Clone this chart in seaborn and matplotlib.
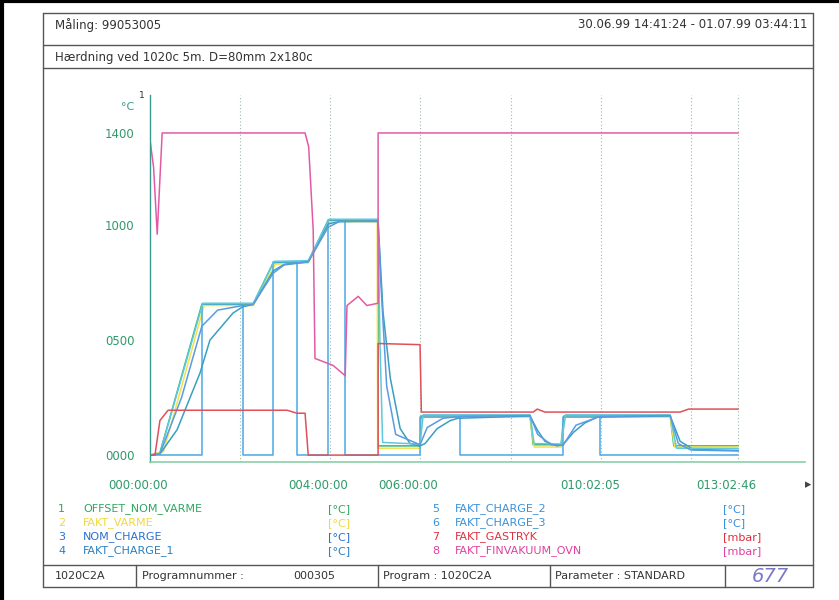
import matplotlib
matplotlib.use("Agg")
import matplotlib.pyplot as plt
from matplotlib.lines import Line2D
from matplotlib.transforms import ScaledTranslation
import pandas as pd
import seaborn as sns

# Data (time in hours, values as plotted on the common scale)
t_nom_varme = [0, 0.22, 1.15, 2.29, 2.73, 3.51, 3.95, 5.06, 5.06, 5.99, 6.02, 8.43, 8.50, 9.12, 9.18, 11.54, 11.62, 13.05]
v_nom_varme = [0, 10, 655, 655, 835, 840, 1020, 1020, 40, 40, 170, 170, 45, 45, 170, 170, 40, 40]

t_fakt_varme = [0, 0.30, 1.20, 2.29, 2.78, 3.51, 4.00, 5.04, 5.05, 5.99, 6.04, 8.43, 8.52, 9.12, 9.20, 11.54, 11.64, 13.05]
v_fakt_varme = [0, 15, 650, 650, 830, 835, 1015, 1015, 30, 30, 165, 165, 35, 35, 165, 165, 35, 35]

t_nom_charge = [0, 1.15, 1.15, 2.06, 2.06, 2.73, 2.73, 3.26, 3.26, 3.95, 3.95, 4.33, 4.33,
                5.99, 5.99, 6.88, 6.88, 9.16, 9.16, 9.98, 9.98, 13.05]
v_nom_charge = [0, 0, 655, 655, 0, 0, 840, 840, 0, 0, 1020, 1020, 0,
                0, 165, 165, 0, 0, 165, 165, 0, 0]

t_charge_1 = [0, 0.22, 0.6, 1.11, 1.33, 1.84, 2.06, 2.29, 2.73, 2.95, 3.51, 3.95, 4.22, 5.06,
              5.17, 5.33, 5.55, 5.77, 5.99, 6.10, 6.37, 6.66, 6.83, 8.43, 8.59, 8.76, 9.03,
              9.16, 9.40, 9.65, 9.92, 11.54, 11.76, 12.05, 13.05]
v_charge_1 = [0, 5, 110, 357, 500, 617, 645, 655, 800, 826, 840, 1005, 1015, 1015,
              620, 335, 115, 50, 40, 50, 115, 150, 160, 170, 110, 60, 40,
              45, 100, 140, 165, 170, 60, 25, 20]

t_charge_2 = [0, 0.22, 1.17, 2.29, 2.75, 3.51, 3.97, 5.06, 5.10, 5.16, 5.99, 6.06, 8.43, 8.52,
              9.12, 9.22, 11.54, 11.68, 13.05]
v_charge_2 = [0, 8, 660, 660, 842, 845, 1025, 1025, 500, 55, 48, 175, 175, 50,
              48, 175, 175, 30, 28]

t_charge_3 = [0, 0.22, 0.7, 1.15, 1.5, 2.06, 2.29, 2.73, 3.0, 3.51, 3.95, 4.2, 5.06, 5.12,
              5.25, 5.45, 5.99, 6.15, 6.5, 6.88, 8.43, 8.60, 8.90, 9.16, 9.45, 9.98, 11.54,
              11.72, 12.0, 13.05]
v_charge_3 = [0, 5, 250, 560, 630, 650, 655, 790, 830, 840, 990, 1015, 1018, 750,
              300, 90, 45, 120, 160, 168, 172, 90, 45, 42, 130, 168, 172,
              50, 22, 18]

t_gastryk = [0, 0.11, 0.22, 0.40, 3.04, 3.26, 3.44, 3.51, 5.06, 5.06, 5.99, 6.02, 8.50, 8.59,
             8.76, 11.76, 11.95, 13.05]
v_gastryk = [0, 0, 150, 195, 195, 182, 182, 0, 0, 485, 480, 187, 187, 200,
             187, 187, 200, 200]

t_finvakuum = [0, 0.08, 0.16, 0.27, 3.44, 3.52, 3.62, 3.66, 4.06, 4.33, 4.37, 4.62, 4.81, 5.06, 5.06, 13.05]
v_finvakuum = [1370, 1250, 960, 1400, 1400, 1340, 980, 420, 390, 345, 650, 690, 650, 660, 1400, 1400]

series_names = ["OFFSET_NOM_VARME", "FAKT_VARME", "NOM_CHARGE", "FAKT_CHARGE_1",
                "FAKT_CHARGE_2", "FAKT_CHARGE_3", "FAKT_GASTRYK", "FAKT_FINVAKUUM_OVN"]
series_units = ["[°C]", "[°C]", "[°C]", "[°C]", "[°C]", "[°C]", "[mbar]", "[mbar]"]
line_colors = ["#3bb273", "#f2e24a", "#49a8e6", "#3a9fc0", "#5ec8dc", "#5a9be0", "#e0505a", "#e25aa6"]
text_colors = ["#2ea860", "#f0d840", "#2a70d0", "#2a80c0", "#3a90d8", "#3a90d8", "#e03040", "#e040a0"]

y_ticks = [0, 500, 1000, 1400]
y_labels = ["0000", "0500", "1000", "1400"]
x_ticks = [0, 4, 6, 10.03, 13.046]
x_labels = ["000:00:00", "004:00:00", "006:00:00", "010:02:05", "013:02:46"]
grid_times = [2, 4, 6, 8, 10, 12, 13.046]

all_t = [t_nom_varme, t_fakt_varme, t_nom_charge, t_charge_1, t_charge_2, t_charge_3, t_gastryk, t_finvakuum]
all_v = [v_nom_varme, v_fakt_varme, v_nom_charge, v_charge_1, v_charge_2, v_charge_3, v_gastryk, v_finvakuum]

frames = []
for name, t, v in zip(series_names, all_t, all_v):
    frames.append(pd.DataFrame({"t": t, "v": v, "serie": name}))
df = pd.concat(frames, ignore_index=True)

sns.set_theme(style="white")
plt.rcParams["font.family"] = ["DejaVu Sans"]

W, H = 839, 600
fig = plt.figure(figsize=(W / 100, H / 100), dpi=100)
fig.patch.set_facecolor("white")


def fx(x):
    return x / W


def fy(y):
    return 1 - y / H


def line(x0, y0, x1, y1, color="#555555", lw=1.0):
    fig.add_artist(Line2D([fx(x0), fx(x1)], [fy(y0), fy(y1)], color=color, lw=lw,
                          transform=fig.transFigure))


def txt(x, y, s, color="#333333", size=8.5, ha="left", **kw):
    fig.text(fx(x), fy(y), s, color=color, fontsize=size, ha=ha, va="center", **kw)


ax = fig.add_axes([fx(150), fy(462), (805 - 150) / W, (462 - 95) / H])
ax.set_facecolor("white")

for gt in grid_times:
    ax.axvline(gt, color="#9fb8aa", lw=0.8, ls=(0, (1, 2)), zorder=0)

sns.lineplot(data=df, x="t", y="v", hue="serie", hue_order=series_names,
             palette=dict(zip(series_names, line_colors)), sort=False,
             estimator=None, legend=False, lw=1.1, ax=ax)

ax.set_xlim(0, 14.53)
ax.set_ylim(-30, 1565)
ax.set_xlabel("")
ax.set_ylabel("")
for s in ["top", "right"]:
    ax.spines[s].set_visible(False)
ax.spines["left"].set_color("#3a9a90")
ax.spines["bottom"].set_color("#8ad0a8")
ax.spines["left"].set_linewidth(1.0)
ax.spines["bottom"].set_linewidth(1.2)

ax.set_yticks(y_ticks, y_labels)
ax.set_xticks(x_ticks, x_labels)
ax.tick_params(length=0, labelsize=8.5, labelcolor="#2e9a6a")
ax.tick_params(axis="y", pad=11)
ax.tick_params(axis="x", pad=12)
for lab in ax.get_xticklabels():
    lab.set_transform(lab.get_transform() + ScaledTranslation(-0.12, 0, fig.dpi_scale_trans))

txt(128, 107, "°C", color="#3a9a90", size=8, ha="center")
txt(142, 95, "1", color="#333333", size=6.5, ha="center")
txt(808, 485, "▸", color="#444444", size=9, ha="center")

# page frame
fig.add_artist(Line2D([0, 1], [fy(1), fy(1)], color="black", lw=3, transform=fig.transFigure))
fig.add_artist(Line2D([fx(1.5), fx(1.5)], [0, 1], color="black", lw=3, transform=fig.transFigure))
line(43, 13, 813, 13)
line(43, 587, 813, 587)
line(43, 13, 43, 587)
line(813, 13, 813, 587)
line(43, 45, 813, 45)
line(43, 68, 813, 68)
line(43, 565, 813, 565)

txt(55, 25, "Måling: 99053005")
txt(808, 25, "30.06.99 14:41:24 - 01.07.99 03:44:11", ha="right")
txt(55, 57, "Hærdning ved 1020c 5m. D=80mm 2x180c")

# legend
rows = [509, 523, 537, 551]
for i, (name, unit, col) in enumerate(zip(series_names, series_units, text_colors)):
    if i < 4:
        xn, xl, xu = 58, 83, 328
    else:
        xn, xl, xu = 432, 455, 723
    y = rows[i % 4]
    txt(xn, y, str(i + 1), color=col, size=8)
    txt(xl, y, name, color=col, size=8)
    txt(xu, y, unit, color=col, size=8)

# footer
for xd in [136, 378, 550, 725]:
    line(xd, 565, xd, 587)
txt(55, 576, "1020C2A", size=8)
txt(142, 576, "Programnummer :", size=8)
txt(293, 576, "000305", size=8)
txt(383, 576, "Program : 1020C2A", size=8)
txt(555, 576, "Parameter : STANDARD", size=8)
txt(770, 576, "677", color="#7a78c8", size=14, ha="center", style="italic")

fig.savefig("out.png", dpi=100, facecolor="white")
